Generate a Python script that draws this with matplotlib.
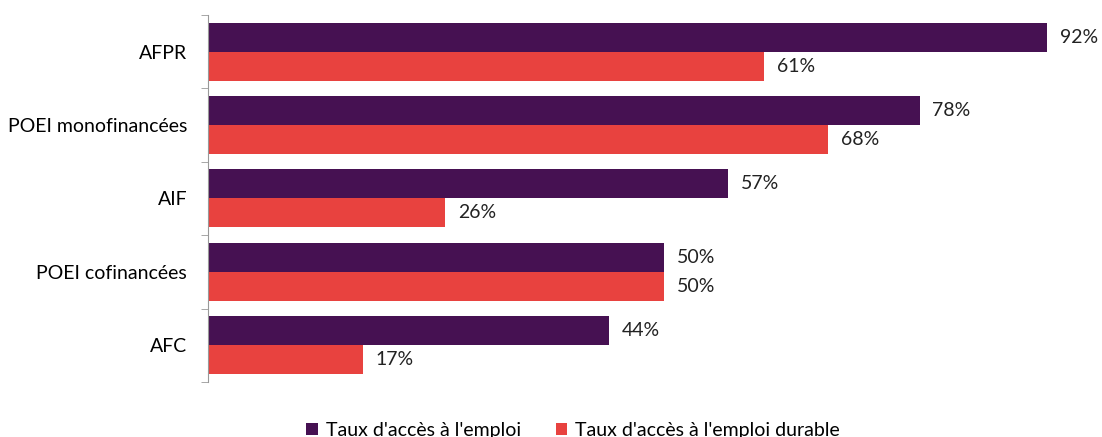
import numpy as np
import matplotlib.pyplot as plt

categories = ["AFPR", "POEI monofinancées", "AIF", "POEI cofinancées", "AFC"]
emploi = [92, 78, 57, 50, 44]
durable = [61, 68, 26, 50, 17]
series_names = ["Taux d'accès à l'emploi", "Taux d'accès à l'emploi durable"]

purple = "#461152"
red = "#E8423F"

plt.rcParams['font.family'] = ['Lato', 'DejaVu Sans']

fig = plt.figure(figsize=(11.02, 4.37), dpi=100)
ax = fig.add_axes([0.1887, 0.1259, 0.8113, 0.8398])

y = np.arange(len(categories))
h = 0.395
b1 = ax.barh(y - h/2, emploi, height=h, color=purple, label=series_names[0])
b2 = ax.barh(y + h/2, durable, height=h, color=red, label=series_names[1])

for bars, vals in ((b1, emploi), (b2, durable)):
    for bar, v in zip(bars, vals):
        ax.text(bar.get_width() + 1.4, bar.get_y() + bar.get_height()/2, "%d%%" % v,
                va='center', ha='left', fontsize=14, color='#222222')

ax.set_xlim(0, 98)
ax.set_ylim(len(categories) - 0.5, -0.5)
ax.set_yticks(y)
ax.set_yticklabels(categories, fontsize=14)
ax.tick_params(axis='y', which='major', length=0, pad=15)
ax.set_yticks(np.arange(-0.5, len(categories)), minor=True)
ax.tick_params(axis='y', which='minor', length=5, color='#999999', direction='out')
ax.set_xticks([])
for s in ['top', 'right', 'bottom']:
    ax.spines[s].set_visible(False)
ax.spines['left'].set_color('#999999')

fig.legend(handles=[b1, b2], loc='lower center', bbox_to_anchor=(0.52, -0.045), ncol=2,
           frameon=False, fontsize=14, handlelength=0.6, handleheight=0.6,
           columnspacing=1.8, handletextpad=0.4)

fig.savefig("out.png", dpi=100)
